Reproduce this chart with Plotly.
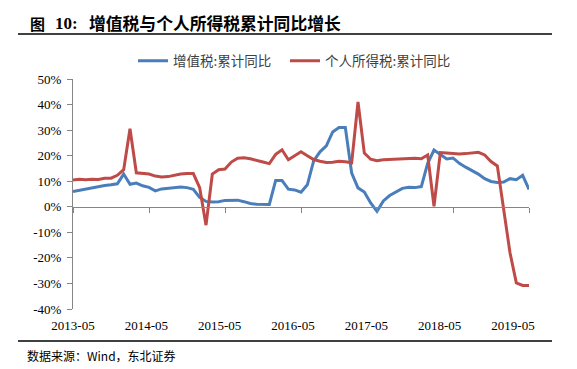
import plotly.graph_objects as go
import pandas as pd

# ---- data ----
months = [d.strftime("%Y-%m") for d in pd.date_range("2013-05-01", periods=73, freq="MS")]

vat_yoy = [6.0, 6.5, 7.0, 7.6, 7.9, 8.3, 8.6, 9.0, 12.8, 8.8,
           9.3, 8.2, 7.6, 6.2, 7.0, 7.3, 7.6, 7.7, 7.5, 6.8,
           3.7, 2.1, 1.9, 2.0, 2.5, 2.6, 2.6, 2.0, 1.3, 1.0,
           1.0, 0.9, 10.3, 10.3, 6.9, 6.6, 5.7, 8.6, 18.0, 21.5,
           23.8, 29.3, 31.0, 31.0, 13.2, 7.4, 5.8, 1.5, -1.8, 2.3,
           4.4, 5.7, 7.2, 7.6, 7.5, 7.9, 17.0, 22.2, 20.3, 18.7,
           19.1, 17.0, 15.5, 14.2, 12.8, 11.0, 9.9, 9.5, 9.7, 11.0,
           10.6, 12.3, 6.8]

pit_yoy = [10.5, 10.8, 10.6, 10.8, 10.7, 11.2, 11.2, 12.3, 14.5, 30.5,
           13.3, 13.0, 12.8, 12.0, 11.7, 11.8, 12.3, 12.8, 13.0, 13.0,
           7.5, -7.2, 12.8, 14.5, 14.8, 17.5, 19.0, 19.2, 18.8, 18.0,
           17.5, 16.9, 20.5, 22.3, 18.4, 20.0, 21.5, 20.0, 18.5, 17.8,
           17.3, 17.4, 17.8, 17.6, 17.2, 41.0, 21.0, 18.6, 18.0, 18.4,
           18.5, 18.6, 18.7, 18.9, 19.0, 18.8, 20.3, 0.2, 21.2, 21.0,
           20.8, 20.7, 20.8, 21.1, 21.3, 20.3, 17.7, 16.0, -1.0, -18.0,
           -29.8, -30.8, -30.8]

series_names = ["增值税:累计同比", "个人所得税:累计同比"]
x_tick_labels = ["2013-05", "2014-05", "2015-05", "2016-05", "2017-05", "2018-05", "2019-05"]
y_tick_vals = [-40, -30, -20, -10, 0, 10, 20, 30, 40, 50]

title_fig = "图"
title_num = "10:"
title_text = "增值税与个人所得税累计同比增长"
source_text = "数据来源：Wind，东北证券"

# ---- layout geometry ----
W, H = 577, 369
L, R, T, B = 73, 48, 79, 60
PW, PH = W - L - R, H - T - B

def px(x):
    return (x - L) / PW

def py(y):
    return (H - B - y) / PH

x = list(range(len(months)))
n = len(months) - 1

fig = go.Figure()
fig.add_trace(go.Scatter(x=x, y=vat_yoy, mode="lines", name=series_names[0],
                         line=dict(color="#4A7EBB", width=3), legend="legend"))
fig.add_trace(go.Scatter(x=x, y=pit_yoy, mode="lines", name=series_names[1],
                         line=dict(color="#BE4B48", width=3), legend="legend2"))

serif = "Liberation Serif, Times New Roman, serif"
cjk = "Noto Sans CJK SC, sans-serif"
axis_col = "#868686"

legend_style = dict(orientation="h", xanchor="left", y=py(61), yanchor="middle",
                    font=dict(family=cjk, size=13.5, color="#404040"),
                    bgcolor="rgba(0,0,0,0)", itemwidth=30)

label_step = n / 6 * 0.965
fig.update_layout(
    width=W, height=H,
    margin=dict(l=L, r=R, t=T, b=B, pad=0, autoexpand=False),
    paper_bgcolor="white", plot_bgcolor="white",
    showlegend=True,
    legend=dict(x=px(133), **legend_style),
    legend2=dict(x=px(285), **legend_style),
    xaxis=dict(range=[0, n], showgrid=False, zeroline=False, showline=False,
               tickmode="array", tickvals=[i * label_step for i in range(len(x_tick_labels))],
               ticktext=x_tick_labels, ticks="", ticklabelstandoff=7,
               tickfont=dict(family=serif, size=13, color="#000000")),
    xaxis2=dict(range=[0, n], overlaying="x", anchor="free", position=40 / 90,
                showgrid=False, zeroline=False, showline=True, linecolor=axis_col, linewidth=1,
                ticks="outside", ticklen=5, tickcolor=axis_col, tickwidth=1,
                tickmode="array", tickvals=list(range(0, n + 1, 12)), showticklabels=False),
    yaxis=dict(range=[-40, 50], showgrid=False, zeroline=False, showline=True,
               linecolor=axis_col, linewidth=1, ticks="outside", ticklen=5,
               tickcolor=axis_col, tickmode="array", tickvals=y_tick_vals,
               ticktext=[f"{v}%" for v in y_tick_vals], ticklabelstandoff=3,
               tickfont=dict(family=serif, size=13, color="#000000")),
)

# invisible trace to make xaxis2 render
fig.add_trace(go.Scatter(x=[0, n], y=[0, 0], xaxis="x2", mode="lines",
                         line=dict(width=0), hoverinfo="skip", showlegend=False))

for txt, xpos, fam, size in ((title_fig, 28, cjk, 15), (title_num, 53, serif, 17),
                             (title_text, 87, cjk, 16.8)):
    fig.add_annotation(text="<b>" + txt + "</b>", xref="paper", yref="paper",
                       x=px(xpos), y=py(23), xanchor="left", yanchor="middle", showarrow=False,
                       font=dict(family=fam, size=size, color="#000000"))
fig.add_annotation(text=source_text, xref="paper", yref="paper",
                   x=px(25), y=py(355), xanchor="left", yanchor="middle", showarrow=False,
                   font=dict(family=cjk, size=12, color="#000000"))

for yline in (34, 341):
    fig.add_shape(type="line", xref="paper", yref="paper",
                  x0=px(18), x1=px(552), y0=py(yline), y1=py(yline),
                  line=dict(color="#404040", width=2))

fig.write_html("out.html", config={"displayModeBar": False},
               post_script="document.body.style.margin='0';document.body.style.padding='0';")
